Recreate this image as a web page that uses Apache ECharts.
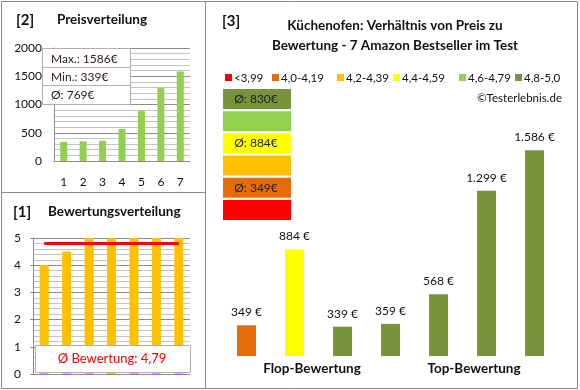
<!DOCTYPE html>
<html><head><meta charset="utf-8">
<script src="https://cdn.jsdelivr.net/npm/echarts@6/dist/echarts.min.js"></script>
<style>html,body{margin:0;padding:0;background:#fff}#c{width:580px;height:390px}</style>
</head><body><div id="c"></div>
<script>
// ---- data ----
const priceCategories = ['1','2','3','4','5','6','7'];
const pricesSorted = [339, 349, 359, 568, 884, 1299, 1586];
const priceMax = 1586, priceMin = 339, priceAvg = 769;
const ratingCategories = ['1','2','3','4','5','6','7'];
const ratings = [4.0, 4.5, 5, 5, 5, 5, 5];
const ratingAvg = 4.79;
const productPrices = [349, 884, 339, 359, 568, 1299, 1586];
const productClass = [1, 3, 5, 5, 5, 5, 5]; // index into ratingClasses
const ratingClasses = ['<3,99', '4,0-4,19', '4,2-4,39', '4,4-4,59', '4,6-4,79', '4,8-5,0'];
const classAvgPrice = [null, 349, null, 884, null, 830];
const groupLabels = ['Flop-Bewertung', 'Top-Bewertung'];
const priceTicks = [0, 500, 1000, 1500, 2000];

// ---- styles ----
const FONT = 'Lato, "Liberation Sans", sans-serif';
const classColors = ['#FF0000', '#E46C0A', '#FFC000', '#FFFF00', '#92D050', '#77933C'];
const frameColor = '#8a8a8a';
const majorGrid = '#8c8c8c', minorGrid = '#c4c4c4';

function euro(v){ return String(v).replace(/\B(?=(\d{3})+(?!\d))/g, '.') + ' €'; }

const chart = echarts.init(document.getElementById('c'), null, {renderer: 'canvas'});

const graphics = [];
// frame
graphics.push({type:'rect', shape:{x:1.5,y:1.5,width:576,height:387}, style:{fill:'none', stroke:frameColor, lineWidth:1}, z:100});
graphics.push({type:'line', shape:{x1:205.5,y1:1.5,x2:205.5,y2:388.5}, style:{stroke:frameColor, lineWidth:1}, z:100});
graphics.push({type:'line', shape:{x1:1.5,y1:192.5,x2:205.5,y2:192.5}, style:{stroke:frameColor, lineWidth:1}, z:100});
// titles
function txt(t, x, y, size, weight, fill, align){
  return {type:'text', x:x, y:y, z:100, style:{text:t, font: (weight||'normal')+' '+size+'px '+FONT, fill: fill||'#111', align: align||'left', verticalAlign:'middle'}};
}
graphics.push(txt('[2]', 16, 20, 15, 'bold'));
graphics.push(txt('Preisverteilung', 57, 20, 13.5, 'bold'));
graphics.push(txt('[1]', 13, 212, 15, 'bold'));
graphics.push(txt('Bewertungsverteilung', 48, 212, 13.5, 'bold'));
graphics.push(txt('[3]', 222, 21, 15, 'bold'));
graphics.push(txt('Küchenofen: Verhältnis von Preis zu', 395, 26, 13.5, 'bold', '#111', 'center'));
graphics.push(txt('Bewertung - 7 Amazon Bestseller im Test', 395, 46, 13.5, 'bold', '#111', 'center'));
graphics.push(txt('©Testerlebnis.de', 562, 98, 11.5, 'normal', '#111', 'right'));

// price stats box
graphics.push({type:'rect', shape:{x:42.5,y:48.5,width:88,height:56}, style:{fill:'#fff', stroke:'#b0b0b0', lineWidth:1}, z:90});
graphics.push({type:'line', shape:{x1:42.5,y1:67.5,x2:130.5,y2:67.5}, style:{stroke:'#b0b0b0'}, z:91});
graphics.push({type:'line', shape:{x1:42.5,y1:85.5,x2:130.5,y2:85.5}, style:{stroke:'#b0b0b0'}, z:91});
graphics.push(txt('Max.: ' + priceMax + '€', 51, 59, 12, 'normal', '#2a1a1a'));
graphics.push(txt('Min.: ' + priceMin + '€', 51, 77, 12, 'normal', '#2a1a1a'));
graphics.push(txt('Ø: ' + priceAvg + '€', 51, 95, 12, 'normal', '#2a1a1a'));

// rating avg box
graphics.push({type:'rect', shape:{x:35.5,y:345.5,width:155,height:27}, style:{fill:'#fff', stroke:'#b0b0b0', lineWidth:1}, z:90});
graphics.push(txt('Ø Bewertung: ' + String(ratingAvg).replace('.', ','), 112, 359, 13, 'normal', '#FF0000', 'center'));

// legend
const legendX = [225, 272, 337, 393, 459, 515];
ratingClasses.forEach((c, i) => {
  graphics.push({type:'rect', shape:{x:legendX[i], y:74, width:7, height:7}, style:{fill:classColors[i]}, z:100});
  graphics.push(txt(c, legendX[i] + 9, 78, 11.5, 'normal', '#111'));
});
// class boxes (top: best class)
for (let k = 0; k < 6; k++) {
  const ci = 5 - k;
  const y = 89 + k * 22.2;
  graphics.push({type:'rect', shape:{x:223, y:y, width:68, height:20}, style:{fill:classColors[ci]}, z:100});
  if (classAvgPrice[ci] != null) graphics.push(txt('Ø: ' + classAvgPrice[ci] + '€', 256, y + 10, 12, 'normal', '#222', 'center'));
}
// group labels
graphics.push(txt(groupLabels[0], 312, 369, 13.5, 'bold', '#111', 'center'));
graphics.push(txt(groupLabels[1], 474, 369, 13.5, 'bold', '#111', 'center'));

const option = {
  animation: false,
  textStyle: {fontFamily: FONT},
  grid: [
    {left:54, top:48, width:136, height:113, outerBoundsMode:'none', containLabel:false},
    {left:33, top:238, width:157, height:136, outerBoundsMode:'none', containLabel:false},
    {left:222.5, top:134, width:336, height:222, outerBoundsMode:'none', containLabel:false}
  ],
  xAxis: [
    {gridIndex:0, type:'category', data:priceCategories, axisLine:{lineStyle:{color:'#8c8c8c'}}, axisTick:{show:false},
     axisLabel:{color:'#111', fontSize:12, margin:15, fontFamily:FONT}},
    {gridIndex:1, type:'category', data:ratingCategories, axisLine:{lineStyle:{color:'#8c8c8c'}}, axisTick:{show:false}, axisLabel:{show:false}},
    {gridIndex:2, type:'category', data:productPrices.map((_, i) => String(i + 1)), show:false}
  ],
  yAxis: [
    {gridIndex:0, type:'value', min:priceTicks[0], max:priceTicks[priceTicks.length-1], interval:500,
     axisLine:{show:true, lineStyle:{color:'#8c8c8c'}}, axisTick:{show:false},
     axisLabel:{color:'#111', fontSize:12, margin:12, fontFamily:FONT, formatter: v => String(v)},
     splitLine:{lineStyle:{color:majorGrid}}, minorTick:{show:false, splitNumber:5}, minorSplitLine:{show:true, lineStyle:{color:minorGrid}}},
    {gridIndex:1, type:'value', min:0, max:5, interval:1,
     axisLine:{show:true, lineStyle:{color:'#8c8c8c'}}, axisTick:{show:true, length:3, lineStyle:{color:'#8c8c8c'}},
     axisLabel:{color:'#111', fontSize:12, margin:12, fontFamily:FONT, formatter: v => String(v)},
     splitLine:{lineStyle:{color:majorGrid}}, minorTick:{show:false, splitNumber:5}, minorSplitLine:{show:true, lineStyle:{color:minorGrid}}},
    {gridIndex:2, type:'value', min:132, max:1700, show:false, splitLine:{show:false}}
  ],
  series: [
    {type:'bar', xAxisIndex:0, yAxisIndex:0, data:pricesSorted, barWidth:7, itemStyle:{color:'#92D050'}},
    {type:'bar', xAxisIndex:1, yAxisIndex:1, data:ratings, barWidth:9, itemStyle:{color:'#FFC000'},
     markLine:{silent:true, symbol:'none', label:{show:false}, lineStyle:{color:'#FF0000', width:3, type:'solid'},
       data:[[{coord:[0, ratingAvg]}, {coord:[6, ratingAvg]}]]}},
    {type:'bar', xAxisIndex:2, yAxisIndex:2, barWidth:19,
     data: productPrices.map((v, i) => ({value:v, itemStyle:{color:classColors[productClass[i]]}})),
     label:{show:true, position:'top', distance:7, formatter: p => euro(p.value), fontSize:12, color:'#111', fontFamily:FONT}}
  ],
  graphic: graphics
};
chart.setOption(option);
</script></body></html>
